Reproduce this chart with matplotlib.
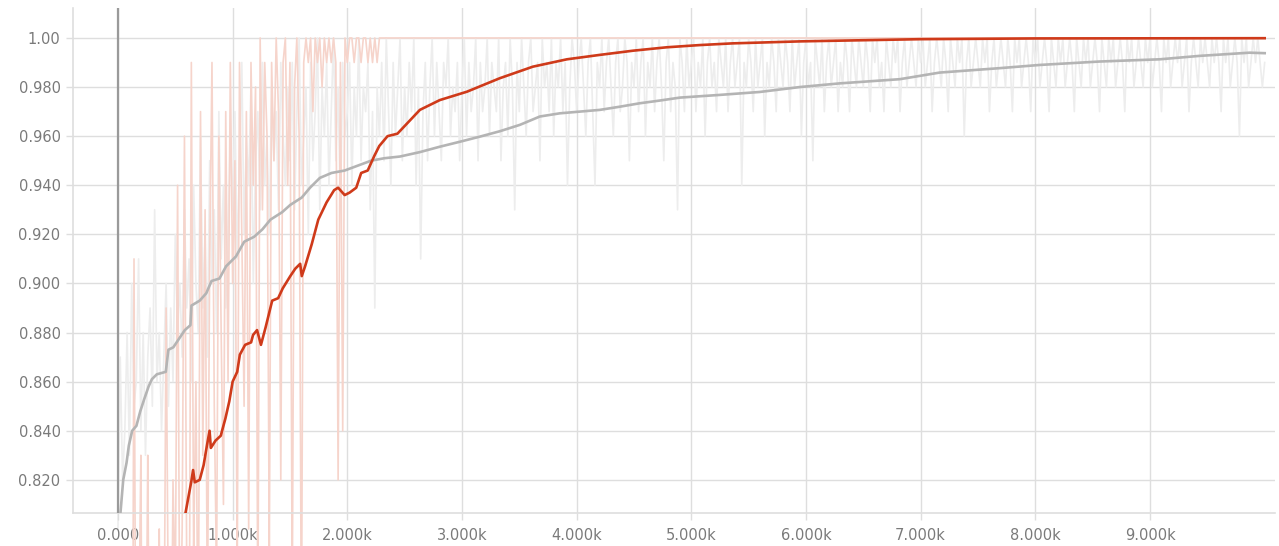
import numpy as np
import matplotlib
matplotlib.use("Agg")
import matplotlib.pyplot as plt
from matplotlib.patches import Rectangle

# ---------------- data ----------------
# gray run, raw accuracy in percent, one value every 20 steps (0 .. 10000)
gray_raw_pct = [
    80, 87, 82, 84, 88, 83, 90, 85, 86, 91, 84, 88, 83, 87, 89, 85, 93, 86, 88, 84, 87, 90, 85, 89, 86,
    92, 88, 90, 87, 93, 89, 91, 86, 94, 90, 88, 96, 89, 92, 87, 95, 90, 93, 88, 97, 91, 94, 89, 92, 96,
    93, 97, 91, 95, 99, 92, 96, 94, 98, 90, 95, 97, 93, 99, 94, 96, 92, 98, 95, 97, 93, 99, 96, 94, 98,
    95, 99, 93, 97, 100, 94, 96, 98, 92, 99, 95, 97, 100, 93, 98, 96, 99, 94, 97, 100, 95, 98, 93, 99, 96,
    97, 99, 94, 98, 96, 100, 95, 98, 97, 99, 93, 97, 89, 98, 96, 99, 95, 100, 97, 94, 99, 96, 98, 100, 95,
    98, 96, 99, 97, 100, 94, 98, 91, 97, 99, 95, 98, 100, 96, 99, 97, 95, 99, 98, 100, 96, 98, 97, 99, 95,
    98, 100, 96, 99, 97, 98, 100, 95, 99, 97, 98, 100, 96, 99, 98, 97, 100, 95, 98, 99, 96, 100, 98, 93, 99,
    97, 100, 98, 96, 99, 100, 97, 98, 99, 95, 100, 98, 99, 97, 100, 96, 99, 98, 100, 97, 99, 94, 98, 100, 99,
    97, 99, 100, 98, 96, 99, 100, 97, 94, 99, 98, 100, 97, 99, 100, 98, 96, 99, 100, 97, 98, 100, 99, 95, 99,
    98, 100, 97, 99, 100, 96, 99, 98, 100, 97, 99, 100, 98, 95, 99, 100, 97, 99, 98, 93, 100, 99, 97, 100, 98,
    99, 100, 97, 99, 98, 100, 96, 99, 100, 98, 99, 97, 100, 99, 98, 100, 97, 99, 100, 98, 99, 100, 94, 99, 98,
    100, 99, 97, 100, 98, 99, 100, 96, 99, 98, 100, 99, 97, 100, 99, 98, 100, 99, 97, 100, 98, 99, 100, 96, 99,
    100, 98, 99, 95, 100, 99, 98, 100, 97, 99, 100, 98, 99, 100, 97, 99, 98, 100, 99, 97, 100, 99, 98, 100, 99,
    98, 100, 99, 97, 100, 99, 100, 98, 99, 97, 100, 99, 98, 100, 99, 100, 97, 99, 100, 98, 99, 100, 99, 98, 100,
    99, 100, 98, 99, 100, 97, 99, 100, 99, 98, 100, 99, 97, 100, 99, 98, 100, 99, 100, 96, 99, 100, 98, 99, 100,
    99, 98, 100, 99, 100, 97, 99, 100, 98, 99, 100, 99, 98, 100, 99, 97, 100, 99, 100, 98, 99, 100, 99, 97, 100,
    99, 100, 98, 99, 100, 99, 97, 100, 99, 98, 100, 99, 100, 98, 99, 100, 99, 97, 100, 99, 98, 100, 99, 100, 98,
    99, 100, 99, 97, 100, 99, 98, 100, 99, 100, 98, 99, 100, 99, 97, 100, 99, 100, 98, 99, 100, 99, 98, 100, 99,
    100, 98, 99, 100, 99, 97, 100, 99, 100, 98, 99, 100, 99, 100, 98, 99, 100, 97, 99, 100, 99, 98, 100, 99, 100,
    99, 98, 100, 99, 100, 99, 97, 100, 99, 100, 98, 99, 100, 99, 96, 100, 99, 100, 98, 99, 100, 99, 100, 99, 98,
    99,
]

# red run, raw accuracy, one value every 20 steps up to 2300, then constant 1.0
red_raw_head = [
    0.70, 0.55, 0.62, 0.78, 0.66, 0.72, 0.60, 0.91, 0.68, 0.75, 0.83, 0.64, 0.71, 0.83,
    0.69, 0.77, 0.62, 0.74, 0.80, 0.68, 0.73, 0.89, 0.76, 0.70, 0.82, 0.77, 0.94, 0.74,
    0.80, 0.96, 0.78, 0.72, 0.99, 0.79, 0.86, 0.74, 0.97, 0.83, 0.93, 0.76, 0.91, 0.99,
    0.85, 0.78, 0.96, 0.88, 0.81, 0.97, 0.86, 0.99, 0.90, 0.95, 0.78, 0.99, 0.92, 0.85,
    0.97, 0.80, 0.99, 0.94, 0.98, 0.76, 1.00, 0.93, 0.99, 0.96, 0.79, 0.99, 0.95, 1.00,
    0.97, 0.82, 0.99, 1.00, 0.94, 0.99, 0.77, 0.98, 1.00, 0.96, 0.75, 0.99, 1.00, 0.99,
    1.00, 0.97, 1.00, 0.99, 1.00, 0.98, 1.00, 0.99, 1.00, 0.99, 1.00, 0.99, 0.82, 0.99,
    0.84, 1.00, 0.99, 1.00, 1.00, 0.99, 1.00, 1.00, 0.99, 1.00, 1.00, 0.99, 1.00, 0.99,
    1.00, 0.99, 1.00, 1.00,
]
red_raw_tail_steps = [2500, 4000, 6000, 8000, 10000]
red_raw_tail = [1.00, 1.00, 1.00, 1.00, 1.00]

# smoothed curves
gray_smooth_steps = [10, 46, 75, 95, 124, 161, 195, 230, 267, 296, 339, 417, 440, 483, 540,
                     583, 632, 641, 713, 770, 816, 885, 943, 1029, 1101, 1187, 1259, 1330,
                     1431, 1503, 1603, 1675, 1761, 1862, 1977, 2092, 2207, 2322, 2459, 2633,
                     2807, 2980, 3156, 3330, 3505, 3679, 3853, 4028, 4202, 4377, 4551, 4725,
                     4900, 5248, 5597, 5946, 6295, 6818, 7166, 7690, 8038, 8561, 9084, 9433,
                     9869, 10000]
gray_smooth = [0.800, 0.820, 0.827, 0.834, 0.840, 0.842, 0.848, 0.853, 0.858, 0.861, 0.863,
               0.864, 0.873, 0.874, 0.878, 0.881, 0.883, 0.891, 0.893, 0.896, 0.901, 0.902,
               0.907, 0.911, 0.917, 0.919, 0.922, 0.926, 0.929, 0.932, 0.935, 0.939, 0.943,
               0.945, 0.946, 0.948, 0.950, 0.951, 0.9517, 0.9535, 0.9557, 0.9577, 0.9598,
               0.962, 0.9646, 0.968, 0.9693, 0.970, 0.9707, 0.972, 0.9734, 0.9745, 0.9757,
               0.9768, 0.978, 0.980, 0.9815, 0.9832, 0.9859, 0.9877, 0.989, 0.9904, 0.9913,
               0.9927, 0.994, 0.9938]

red_smooth_steps = [560, 589, 641, 655, 670, 713, 747, 776, 799, 810, 851, 897, 908, 937, 971,
                    1000, 1040, 1063, 1109, 1161, 1178, 1213, 1247, 1287, 1345, 1397, 1437,
                    1503, 1546, 1589, 1603, 1632, 1690, 1747, 1819, 1885, 1920, 1977, 2020,
                    2078, 2121, 2178, 2236, 2279, 2351, 2437, 2633, 2807, 3043, 3330, 3618,
                    3915, 4202, 4490, 4786, 5074, 5362, 5658, 5946, 6295, 7000, 8000, 10000]
red_smooth = [0.800, 0.8065, 0.8197, 0.824, 0.819, 0.820, 0.826, 0.834, 0.840, 0.833, 0.836,
              0.838, 0.840, 0.845, 0.852, 0.860, 0.864, 0.871, 0.875, 0.876, 0.879, 0.881,
              0.875, 0.882, 0.893, 0.894, 0.898, 0.903, 0.906, 0.908, 0.903, 0.907, 0.916,
              0.926, 0.933, 0.938, 0.939, 0.936, 0.937, 0.939, 0.945, 0.946, 0.952, 0.956,
              0.960, 0.961, 0.9707, 0.9747, 0.9781, 0.9836, 0.9883, 0.9913, 0.9931, 0.9948,
              0.9962, 0.9971, 0.9978, 0.9982, 0.9986, 0.9989, 0.9995, 0.9998, 0.9999]

y_ticks = [0.82, 0.84, 0.86, 0.88, 0.90, 0.92, 0.94, 0.96, 0.98, 1.00]
y_tick_labels = ["0.820", "0.840", "0.860", "0.880", "0.900", "0.920", "0.940", "0.960", "0.980", "1.00"]
x_ticks = [0, 1000, 2000, 3000, 4000, 5000, 6000, 7000, 8000, 9000]
x_tick_labels = ["0.000", "1.000k", "2.000k", "3.000k", "4.000k", "5.000k", "6.000k", "7.000k", "8.000k", "9.000k"]

# --------------- steps ---------------
gray_raw_steps = np.arange(len(gray_raw_pct)) * 20
gray_raw = np.array(gray_raw_pct) / 100.0
red_raw_steps = list(np.arange(len(red_raw_head)) * 20) + red_raw_tail_steps
red_raw = red_raw_head + red_raw_tail

# --------------- figure ---------------
fig = plt.figure(figsize=(12.79, 5.46), dpi=100)
L, B, R, T = 73 / 1279, 33 / 546, 1275 / 1279, 538 / 546
ax = fig.add_axes([L, B, R - L, T - B])

grid_c = "#dedede"
text_c = "#7a7a7a"

for y in y_ticks:
    ax.axhline(y, color=grid_c, lw=1.0, zorder=0)
for x in x_ticks:
    ax.axvline(x, color=grid_c, lw=1.0, zorder=0)

clip_rect = Rectangle((L, 0), R - L, T, transform=fig.transFigure, facecolor="none")

l1, = ax.plot(gray_raw_steps, gray_raw, color="#ededed", lw=1.2, zorder=1)
l2, = ax.plot(red_raw_steps, red_raw, color="#f6d4cb", lw=1.2, zorder=2)
for ln in (l1, l2):
    ln.set_clip_path(clip_rect)

ax.axvline(0, color="#9a9a9a", lw=1.6, zorder=3)
ax.plot(gray_smooth_steps, gray_smooth, color="#b4b4b4", lw=1.9, zorder=4)
ax.plot(red_smooth_steps, red_smooth, color="#cf3a1a", lw=1.9, zorder=5)

ax.set_xlim(-392, 10090)
ax.set_ylim(0.8065, 1.0122)

ax.set_yticks(y_ticks)
ax.set_yticklabels(y_tick_labels)
ax.set_xticks(x_ticks)
ax.set_xticklabels(x_tick_labels)

for s in ("top", "right"):
    ax.spines[s].set_visible(False)
for s in ("left", "bottom"):
    ax.spines[s].set_color(grid_c)
    ax.spines[s].set_linewidth(1.2)
ax.tick_params(axis="both", colors=grid_c, labelcolor=text_c, labelsize=10.5,
               length=5, width=1.0, pad=4)
ax.tick_params(axis="x", pad=6)

fig.savefig("out.png", dpi=100, facecolor="white")
